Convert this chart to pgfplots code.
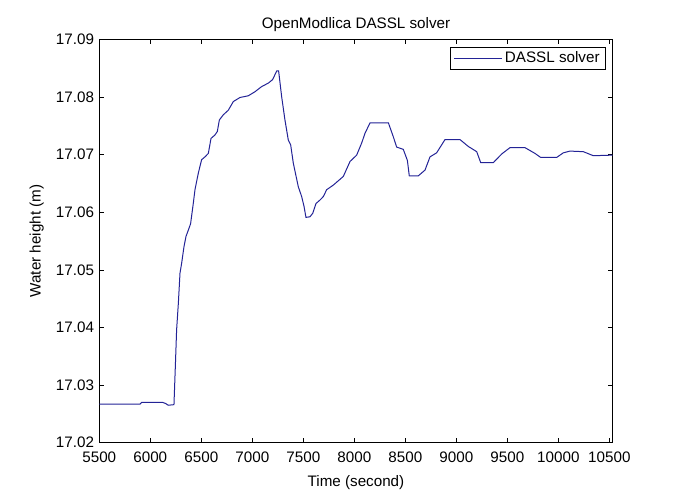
\documentclass[border=0pt]{standalone}
\usepackage{pgfplots}
\pgfplotsset{compat=1.18}
\usepackage{fontspec}
\setmainfont{Liberation Sans}
\definecolor{lineblue}{RGB}{35,35,150}
\begin{document}
\fontsize{15.2}{18}\selectfont
\begin{tikzpicture}
\useasboundingbox (-99.3pt,-49.3pt) rectangle (581.7pt,442.7pt);
\begin{axis}[
  at={(0pt,0pt)}, anchor=south west,
  scale only axis,
  width=513.4pt, height=403.4pt,
  xmin=5500, xmax=10533,
  ymin=17.02, ymax=17.09,
  xtick={5500,6000,...,10500},
  ytick={17.02,17.03,17.04,17.05,17.06,17.07,17.08,17.09},
  scaled x ticks=false, scaled y ticks=false,
  /pgf/number format/assume math mode=true,
  xticklabel style={/pgf/number format/set thousands separator={}, /pgf/number format/fixed, yshift=-4pt},
  yticklabel style={/pgf/number format/fixed, /pgf/number format/fixed zerofill, /pgf/number format/precision=2},
  tick label style={font=\fontsize{15.2}{18}\selectfont},
  label style={font=\fontsize{15.2}{18}\selectfont},
  title style={font=\fontsize{15.2}{18}\selectfont, yshift=-4pt},
  tick align=inside,
  major tick length=5pt,
  axis line style={black, line width=0.8pt},
  every tick/.style={black, line width=0.6pt},
  xtick pos=both, ytick pos=both,
  title={OpenModlica DASSL solver},
  xlabel={Time (second)},
  ylabel={Water height (m)},
  xlabel style={yshift=-2pt},
  ylabel style={yshift=2pt},
  legend style={at={(1,1)}, anchor=north east, xshift=-6.7pt, yshift=-8pt,
    draw=black, line width=0.8pt, font=\fontsize{15.2}{18}\selectfont,
    inner xsep=4pt, inner ysep=2pt},
  legend cell align=left,
  legend image code/.code={\draw[#1] (0pt,0pt) -- (48pt,0pt);},
]
\addplot[lineblue, line width=1pt] coordinates {
(5500,17.0267) (5900,17.0267) (5915,17.0270) (6120,17.0270) (6150,17.0268)
(6176,17.0265) (6232,17.0266) (6245,17.0330) (6258,17.0396) (6275,17.0442)
(6291,17.0494) (6307,17.0511) (6330,17.0540) (6350,17.0558) (6373,17.0569)
(6395,17.0580) (6422,17.0616) (6438,17.0639) (6471,17.0668) (6503,17.0691)
(6536,17.0696) (6569,17.0702) (6595,17.0728) (6634,17.0734) (6657,17.0740)
(6677,17.0760) (6716,17.0769) (6765,17.0777) (6814,17.0792) (6879,17.0799)
(6961,17.0802) (7026,17.0809) (7092,17.0818) (7157,17.0824) (7199,17.0830)
(7239,17.0845) (7258,17.0845) (7288,17.0800) (7320,17.0760) (7353,17.0725)
(7376,17.0717) (7402,17.0685) (7451,17.0644) (7484,17.0627) (7507,17.0610)
(7526,17.0591) (7565,17.0592) (7592,17.0598) (7624,17.0615) (7663,17.0621)
(7696,17.0627) (7729,17.0639) (7794,17.0647) (7892,17.0662) (7958,17.0688)
(8023,17.0699) (8072,17.0720) (8105,17.0737) (8154,17.0755) (8334,17.0755)
(8382,17.0731) (8415,17.0713) (8480,17.0709) (8520,17.0690) (8539,17.0663)
(8627,17.0663) (8693,17.0673) (8742,17.0696) (8807,17.0703) (8889,17.0726)
(9036,17.0726) (9118,17.0714) (9200,17.0705) (9239,17.0686) (9363,17.0686)
(9445,17.0701) (9526,17.0712) (9673,17.0712) (9771,17.0702) (9827,17.0695)
(9984,17.0695) (10049,17.0703) (10114,17.0706) (10245,17.0705) (10343,17.0698)
(10533,17.0699)
};
\addlegendentry{DASSL solver}
\end{axis}
\end{tikzpicture}
\end{document}
